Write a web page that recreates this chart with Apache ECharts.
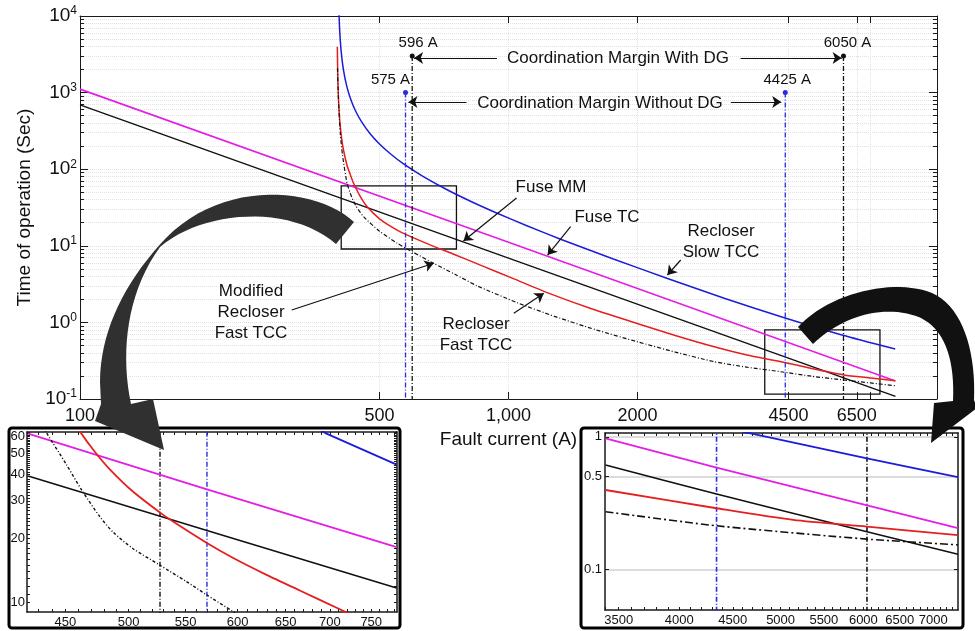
<!DOCTYPE html>
<html><head><meta charset="utf-8">
<script src="https://cdn.jsdelivr.net/npm/echarts@6/dist/echarts.min.js"></script>
<style>html,body{margin:0;padding:0;background:#fff}#c{width:975px;height:631px}</style>
</head><body><div id="c"></div>
<script>
// ===== Main chart data: [fault current (A), time (s)] =====
const fuseTC       = [[100,1110],[1000,11.1],[8000,0.172]];
const fuseMM       = [[100,690],[1000,6.9],[8000,0.108]];
const recloserSlow = [[401.5,16000],[402.4,10000],[404,5970],[407,3400],[412,1970],[420,1171],[430,771],[440,571],[455,408],[476,288],[500,213],[530,159],[569,117],[630,81.2],[719,53.9],[820,37.6],[941,26.6],[1100,18.4],[1323,12.2],[1750,6.77],[2350,3.75],[3200,2.05],[4365,1.17],[6000,0.686],[7990,0.45]];
const recloserFast = [[398.6,3980],[399.5,1700],[401,840],[404,418],[408,250],[412,178],[420,112],[427,86],[435,65.5],[450,45],[468,32.4],[500,22.5],[530,18.1],[569,14.5],[650,10.5],[750,7.64],[860,5.6],[1030,3.7],[1231,2.45],[1550,1.53],[1996,0.97],[2450,0.674],[3020,0.48],[3600,0.375],[4325,0.307],[5100,0.25],[6066,0.206],[7000,0.188],[7990,0.173]];
const modifiedFast = [[399,2075],[400,1200],[402,600],[405,294],[410,150],[420,65.5],[430,44],[440,33.5],[459,24],[500,15.5],[550,10.8],[600,8.2],[669,5.9],[750,4.25],[845,3.0],[1050,1.8],[1280,1.2],[1600,0.8],[1996,0.56],[2450,0.41],[3020,0.307],[3600,0.26],[4325,0.227],[5100,0.198],[6066,0.177],[7000,0.162],[7990,0.149]];

// coordination margin lines
const marginCurrents = [575, 596, 4425, 6050];
const marginTops     = [1000, 3000, 1000, 3000];
const marginLabels   = ['575 A', '596 A', '4425 A', '6050 A'];
const marginColors   = ['#2a2ae0', '#111111', '#2a2ae0', '#111111'];

// annotation arrows [from, to] in (A, s)
const arrowPairs = [
  [[940,2830],[602,2830]], [[3480,2830],[5990,2830]],
  [[798,753],[584,753]],   [[3302,753],[4330,753]],
  [[1044,42.1],[785,11.55]], [[1396,17.76],[1234,7.58]],
  [[2523,6.53],[2349,4.16]], [[1029,1.315],[1209,2.40]],
  [[312,1.452],[669,5.91]]
];
// zoom boxes [[I1,t1],[I2,t2]]
const zoomBoxes = [ [[407,9.08],[756,60.4]], [[3963,0.116],[7360,0.80]] ];

// axis ticks
const mainXLabelValues = [100, 500, 1000, 2000, 4500, 6500];
const mainXLabelTexts  = ['100', '500', '1,000', '2000', '4500', '6500'];
const mainXTickValues  = [500, 1000, 2000, 4500, 6500, 7000];

// ===== Left inset data =====
const liMagenta = [[422.8,62],[570,34],[782.5,18.2]];
const liBlack   = [[422.8,39.2],[570,21.8],[782.5,11.7]];
const liBlue    = [[690,64],[696,62],[782.5,44.4]];
const liRed     = [[452,78],[461,63.5],[472.6,51],[484.6,42.2],[503.9,33.1],[526.8,26.5],[538.6,24],[569.5,19.1],[595.6,16.2],[629.7,13.5],[665.6,11.4],[711.7,9.31],[730,8.6]];
const liDash    = [[430,72],[436,62.5],[450.8,44.3],[462.3,33.8],[476.6,25.3],[487.3,21.4],[503.9,17.9],[526.8,15],[550.8,12.55],[569.5,10.9],[595.6,9.07],[610,8.2]];
const liLines   = [527, 570];
const liXLabels = [450, 500, 550, 600, 650, 700, 750];
const liYLabels = [10, 20, 30, 40, 50, 60];

// ===== Right inset data =====
const riMagenta = [[3400,0.975],[4342,0.585],[7390,0.205]];
const riBlack   = [[3400,0.613],[4342,0.37],[6048,0.192],[7390,0.130]];
const riRed     = [[3400,0.397],[4342,0.289],[5140,0.236],[6048,0.21],[7390,0.181]];
const riDash    = [[3400,0.272],[4342,0.213],[6048,0.169],[7390,0.153]];
const riBlue    = [[4600,1.09],[4656,1.07],[6048,0.689],[7390,0.497]];
const riLines   = [4342, 6048];
const riXLabels = [3500, 4000, 4500, 5000, 5500, 6000, 6500, 7000];
const riYLabels = [0.1, 0.5, 1];

// ===== build =====
const FONT = "'Liberation Sans', Arial, Helvetica, sans-serif";
const lg = Math.log10;
const toLog = arr => arr.map(p => [lg(p[0]), lg(p[1])]);
const MAG = '#e31fe3', BLU = '#1c1cd8', RED = '#e51f1f', BLK = '#111111';

function curve(data, color, xi, yi, width, dash, smooth) {
  return {type:'line', xAxisIndex:xi, yAxisIndex:yi, data:toLog(data), showSymbol:false, symbol:'none',
    smooth:smooth || false, clip:true, silent:true, z:3,
    lineStyle:{color:color, width:width, type:dash || 'solid'}};
}
function vline(x, y0, y1, color, xi, yi, width) {
  return {type:'line', xAxisIndex:xi, yAxisIndex:yi, data:[[lg(x), lg(y0)], [lg(x), lg(y1)]],
    showSymbol:false, symbol:'none', clip:true, silent:true, z:2,
    lineStyle:{color:color, width:width, type:[5,2,1,2]}};
}

const series = [];
series.push(curve(fuseTC, MAG, 0, 0, 1.6));
const mmSeries = curve(fuseMM, BLK, 0, 0, 1.4);
mmSeries.markLine = {silent:true, symbol:['none','arrow'], symbolSize:9, animation:false,
  label:{show:false}, lineStyle:{color:'#111', width:1.2, type:'solid'},
  data: arrowPairs.map(p => [{coord:[lg(p[0][0]), lg(p[0][1])]}, {coord:[lg(p[1][0]), lg(p[1][1])]}])};
mmSeries.markArea = {silent:true, animation:false, label:{show:false},
  itemStyle:{color:'rgba(0,0,0,0)', borderColor:'#111', borderWidth:1.3},
  data: zoomBoxes.map(b => [{coord:[lg(b[0][0]), lg(b[0][1])]}, {coord:[lg(b[1][0]), lg(b[1][1])]}])};
series.push(mmSeries);
series.push(curve(recloserSlow, BLU, 0, 0, 1.5, null, 0.2));
series.push(curve(recloserFast, RED, 0, 0, 1.5, null, 0.2));
series.push(curve(modifiedFast, BLK, 0, 0, 1.2, [4,2,1,2], 0.2));
const labelOffsets = [[-15,0],[6,0],[2,0],[4,0]];
marginCurrents.forEach((c, i) => {
  series.push({type:'line', xAxisIndex:0, yAxisIndex:0, clip:true, silent:true, z:4, showSymbol:true,
    lineStyle:{color:marginColors[i], width:1.3, type:[5,2,1,2]},
    data:[
      {value:[lg(c), lg(marginTops[i])], symbol:'circle', symbolSize:5, itemStyle:{color:marginColors[i]},
        label:{show:true, position:'top', distance:3, offset:labelOffsets[i], formatter:marginLabels[i],
          fontSize:15, color:'#111', fontFamily:FONT}},
      {value:[lg(c), -1], symbol:'none'}
    ]});
});
// left inset
series.push(curve(liMagenta, MAG, 2, 4, 1.8));
series.push(curve(liBlack, BLK, 2, 4, 1.6));
series.push(curve(liBlue, BLU, 2, 4, 1.8));
series.push(curve(liRed, RED, 2, 4, 1.8, null, 0.25));
series.push(curve(liDash, BLK, 2, 4, 1.4, [3,2,1,2], 0.25));
series.push(vline(liLines[0], 5, 100, '#111', 2, 4, 1.4));
series.push(vline(liLines[1], 5, 100, '#2a2ae0', 2, 4, 1.4));
// right inset
series.push(curve(riMagenta, MAG, 4, 6, 1.8));
series.push(curve(riBlack, BLK, 4, 6, 1.6, null, 0.2));
series.push(curve(riBlue, BLU, 4, 6, 1.8, null, 0.2));
series.push(curve(riRed, RED, 4, 6, 1.8, null, 0.25));
series.push(curve(riDash, BLK, 4, 6, 1.6, [8,3,2,3], 0.2));
series.push(vline(riLines[0], 0.01, 2, '#2a2ae0', 4, 6, 1.6));
series.push(vline(riLines[1], 0.01, 2, '#111', 4, 6, 1.6));

// ticks
const mainYMinor = [];
for (let e = -1; e < 4; e++) for (let k = 2; k <= 9; k++) mainYMinor.push(lg(k * Math.pow(10, e)));
const liXMinor = []; for (let v = 430; v <= 780; v += 10) liXMinor.push(lg(v));
const liYMinor = []; for (let v = 10; v <= 63; v += 1) liYMinor.push(lg(v));
const riXMinor = []; for (let v = 3400; v <= 7300; v += 100) riXMinor.push(lg(v));

const AX = '#1a1a1a';
function ax(o) {
  return Object.assign({type:'value', axisLine:{show:true, onZero:false, lineStyle:{color:AX, width:1}},
    axisTick:{show:false}, axisLabel:{show:false}, splitLine:{show:false}, minorTick:{show:false}, minorSplitLine:{show:false}}, o);
}
const nearest = (vals, texts) => v => {
  const a = Math.pow(10, v); let best = 0;
  vals.forEach((x, i) => { if (Math.abs(x - a) < Math.abs(vals[best] - a)) best = i; });
  return texts[best];
};
const grid0 = {left:80, top:16, width:857, height:383, containLabel:false, outerBoundsMode:'none'};
const grid1 = {left:27, top:432, width:370, height:180, containLabel:false, outerBoundsMode:'none'};
const grid2 = {left:605, top:433, width:353, height:177, containLabel:false, outerBoundsMode:'none'};
const faint = {show:true, lineStyle:{color:'#e2e2e2', width:1, type:'dotted'}};
const tickFont = {color:'#111', fontFamily:FONT};

const xAxis = [
  ax({gridIndex:0, position:'bottom', min:2, max:4,
    axisTick:{show:true, inside:true, length:7, customValues:mainXTickValues.map(lg), lineStyle:{color:AX}},
    axisLabel:Object.assign({show:true, customValues:mainXLabelValues.map(lg), formatter:nearest(mainXLabelValues, mainXLabelTexts), fontSize:18, margin:8}, tickFont),
    splitLine:faint,
    name:'Fault current (A)', nameLocation:'middle', nameGap:29, nameTextStyle:{fontSize:19, color:'#111', fontFamily:FONT}}),
  ax({gridIndex:0, position:'top', min:2, max:4,
    axisTick:{show:true, inside:true, length:7, customValues:mainXTickValues.map(lg), lineStyle:{color:AX}}}),
  ax({gridIndex:1, position:'bottom', min:lg(422), max:lg(783), axisLine:{show:true, onZero:false, lineStyle:{color:AX, width:1.5}},
    axisTick:{show:true, inside:true, length:3, customValues:liXMinor, lineStyle:{color:AX}},
    axisLabel:Object.assign({show:true, customValues:liXLabels.map(lg), formatter:v => String(Math.round(Math.pow(10, v))), fontSize:13, margin:4}, tickFont)}),
  ax({gridIndex:1, position:'top', min:lg(422), max:lg(783), axisLine:{show:true, onZero:false, lineStyle:{color:AX, width:1.5}},
    axisTick:{show:true, inside:true, length:3, customValues:liXMinor, lineStyle:{color:AX}}}),
  ax({gridIndex:2, position:'bottom', min:lg(3396), max:lg(7391), axisLine:{show:true, onZero:false, lineStyle:{color:AX, width:1.5}},
    axisTick:{show:true, inside:true, length:3, customValues:riXMinor, lineStyle:{color:AX}},
    axisLabel:Object.assign({show:true, customValues:riXLabels.map(lg), formatter:v => String(Math.round(Math.pow(10, v) / 100) * 100), fontSize:13, margin:4}, tickFont)}),
  ax({gridIndex:2, position:'top', min:lg(3396), max:lg(7391), axisLine:{show:true, onZero:false, lineStyle:{color:AX, width:1.5}},
    axisTick:{show:true, inside:true, length:3, customValues:riXMinor, lineStyle:{color:AX}}})
];
const yAxis = [
  ax({gridIndex:0, position:'left', min:-1, max:4, interval:1,
    axisTick:{show:true, inside:true, length:8, lineStyle:{color:AX}},
    axisLabel:{show:true, margin:3, showMinLabel:true, showMaxLabel:true, formatter:v => '{b|10}{s|' + Math.round(v) + '}',
      rich:{b:{fontSize:19, lineHeight:22, color:'#111', fontFamily:FONT},
            s:{fontSize:12, lineHeight:12, verticalAlign:'top', color:'#111', fontFamily:FONT}}},
    splitLine:faint,
    name:'Time of operation (Sec)', nameLocation:'middle', nameGap:43, nameTextStyle:{fontSize:19, color:'#111', fontFamily:FONT}}),
  ax({gridIndex:0, position:'left', min:-1, max:4, axisLine:{show:false},
    axisTick:{show:true, inside:true, length:4, customValues:mainYMinor, lineStyle:{color:AX}}, splitLine:faint}),
  ax({gridIndex:0, position:'right', min:-1, max:4, interval:1,
    axisTick:{show:true, inside:true, length:8, lineStyle:{color:AX}}}),
  ax({gridIndex:0, position:'right', min:-1, max:4, axisLine:{show:false},
    axisTick:{show:true, inside:true, length:4, customValues:mainYMinor, lineStyle:{color:AX}}}),
  ax({gridIndex:1, position:'left', min:lg(9.04), max:lg(63.1), axisLine:{show:true, onZero:false, lineStyle:{color:AX, width:1.5}},
    axisTick:{show:true, inside:true, length:3, customValues:liYMinor, lineStyle:{color:AX}},
    axisLabel:Object.assign({show:true, customValues:liYLabels.map(lg), formatter:v => String(Math.round(Math.pow(10, v))), fontSize:13, margin:2}, tickFont)}),
  ax({gridIndex:1, position:'right', min:lg(9.04), max:lg(63.1), axisLine:{show:true, onZero:false, lineStyle:{color:AX, width:1.5}},
    axisTick:{show:true, inside:true, length:3, customValues:liYMinor, lineStyle:{color:AX}}}),
  ax({gridIndex:2, position:'left', min:lg(0.0493), max:lg(1.069), axisLine:{show:true, onZero:false, lineStyle:{color:AX, width:1.5}},
    axisTick:{show:true, inside:true, length:4, customValues:riYLabels.map(lg), lineStyle:{color:AX}},
    axisLabel:Object.assign({show:true, customValues:riYLabels.map(lg), formatter:v => String(parseFloat(Math.pow(10, v).toPrecision(2))), fontSize:13, margin:3}, tickFont),
    splitLine:{show:true, lineStyle:{color:'#d0d0d0', width:1.5, type:'solid'}}}),
  ax({gridIndex:2, position:'right', min:lg(0.0493), max:lg(1.069), axisLine:{show:true, onZero:false, lineStyle:{color:AX, width:1.5}},
    axisTick:{show:true, inside:true, length:4, customValues:riYLabels.map(lg), lineStyle:{color:AX}}})
];

// decorations (curved pointer arrows)
function bez(p0, p1, p2, p3, n) {
  const pts = [];
  for (let i = 0; i <= n; i++) {
    const t = i / n, u = 1 - t;
    pts.push([u*u*u*p0[0] + 3*u*u*t*p1[0] + 3*u*t*t*p2[0] + t*t*t*p3[0],
              u*u*u*p0[1] + 3*u*u*t*p1[1] + 3*u*t*t*p2[1] + t*t*t*p3[1]]);
  }
  return pts;
}
const leftArrow = [].concat(
  bez([354,222],[318,188],[225,178],[166,238],24),
  bez([166,238],[126,280],[100,330],[100,382],18),
  [[101,404],[95,421],[164,450],[153,399],[131,404]],
  bez([131,404],[120,352],[127,292],[160,247],18),
  bez([160,247],[203,210],[290,204],[336,244],24));
const rightArrow = [].concat(
  bez([798,327],[830,292],[895,278],[932,293],24),
  bez([932,293],[962,306],[976,350],[974,400],18),
  [[977,408],[931,443],[934,403],[953,401]],
  bez([953,401],[955,358],[944,326],[916,316],18),
  bez([916,316],[880,304],[840,318],[813,344],24));

const annotations = [
  {text:'Coordination Margin With DG', x:618, y:58},
  {text:'Coordination Margin Without DG', x:600, y:103},
  {text:'Fuse MM', x:551, y:187},
  {text:'Fuse TC', x:607, y:217},
  {text:'Recloser\nSlow TCC', x:721, y:242},
  {text:'Recloser\nFast TCC', x:476, y:335},
  {text:'Modified\nRecloser\nFast TCC', x:251, y:312}
];

const graphic = [
  {type:'rect', shape:{x:9, y:428, width:391, height:200, r:3}, style:{fill:null, stroke:'#000', lineWidth:3}, z:1, silent:true},
  {type:'rect', shape:{x:581, y:428, width:382, height:200, r:3}, style:{fill:null, stroke:'#000', lineWidth:3}, z:1, silent:true}
].concat(annotations.map(a => ({type:'text', x:a.x, y:a.y, z:50, silent:true,
  style:{text:a.text, fontSize:17, fontFamily:FONT, fill:'#111', align:'center', verticalAlign:'middle', lineHeight:21}})))
 .concat([
  {type:'polygon', shape:{points:leftArrow}, style:{fill:'#303030'}, z:100, silent:true},
  {type:'polygon', shape:{points:rightArrow}, style:{fill:'#111'}, z:100, silent:true}
 ]);

const chart = echarts.init(document.getElementById('c'), null, {renderer:'canvas'});
chart.setOption({
  animation:false, backgroundColor:'#fff',
  grid:[grid0, grid1, grid2], xAxis:xAxis, yAxis:yAxis, series:series, graphic:graphic
});
</script></body></html>
